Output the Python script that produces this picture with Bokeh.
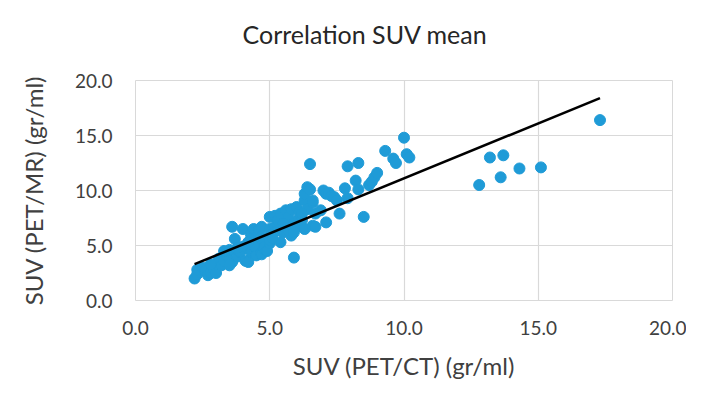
from bokeh.plotting import figure
from bokeh.models import FixedTicker, PrintfTickFormatter, ColumnDataSource, Title
from bokeh.embed import file_html
from bokeh.resources import INLINE

# SUV (PET/CT) values
suv_ct = [2.2, 2.3, 2.3, 2.5, 2.6, 2.7, 2.8, 2.9, 3.0, 3.0, 3.1, 3.2, 3.3, 3.4, 3.5,
          3.6, 3.6, 3.7, 3.8, 3.9, 4.0, 4.0, 4.1, 4.2, 4.3, 4.3, 4.4, 4.5, 4.5, 4.6,
          4.6, 4.7, 4.7, 4.7, 4.8, 4.8, 4.9, 5.0, 5.0, 5.0, 5.0, 5.1, 5.2, 5.2, 5.3,
          5.4, 5.4, 5.5, 5.6, 5.6, 5.7, 5.8, 5.8, 5.9, 6.0, 6.0, 6.1, 6.2, 6.3, 6.3,
          6.3, 6.4, 6.4, 6.5, 6.5, 6.6, 6.6, 6.6, 6.7, 6.7, 6.9, 7.0, 7.1, 7.1, 7.2,
          7.3, 7.4, 7.5, 7.6, 7.8, 7.9, 7.9, 8.2, 8.3, 8.3, 8.5, 8.7, 8.8, 8.9, 9.0,
          9.3, 9.6, 9.7, 10.0, 10.1, 10.2, 12.8, 13.2, 13.6, 13.7, 14.3, 15.1, 17.3,
          5.5, 5.7, 5.9, 6.1, 5.3, 4.4, 3.3, 3.8, 2.8, 3.5, 4.2, 5.1, 5.9, 6.2]
# SUV (PET/MR) values
suv_mr = [2.0, 2.4, 2.8, 3.0, 2.7, 2.3, 2.5, 2.9, 2.5, 3.3, 3.8, 3.2, 3.6, 4.1, 4.6,
          3.5, 6.7, 5.6, 4.0, 4.4, 4.9, 6.5, 3.6, 3.5, 4.4, 6.0, 6.5, 4.9, 4.1, 5.3,
          6.4, 4.2, 5.8, 6.7, 4.7, 4.9, 4.5, 5.2, 5.5, 6.5, 7.6, 6.1, 6.7, 7.7, 7.3,
          5.3, 7.9, 6.2, 6.8, 8.2, 7.6, 8.3, 5.9, 3.9, 6.7, 8.5, 7.4, 7.3, 6.5, 9.1,
          9.7, 10.3, 8.3, 10.1, 12.4, 6.8, 8.9, 9.1, 7.9, 6.7, 8.2, 10.0, 7.1, 9.7, 9.8,
          9.5, 9.4, 9.1, 7.9, 10.2, 12.2, 9.3, 10.9, 10.1, 12.5, 7.6, 10.5, 10.8, 11.2, 11.6,
          13.6, 12.9, 12.5, 14.8, 13.3, 13.0, 10.5, 13.0, 11.2, 13.2, 12.0, 12.1, 16.4,
          7.0, 6.4, 7.0, 8.0, 6.4, 5.0, 4.5, 4.8, 3.3, 3.2, 5.3, 5.7, 6.2, 7.9]

# Linear trend line
trend_slope = 1.0
trend_intercept = 1.1

tick_values = [0, 5, 10, 15, 20]

TEXT = "#404040"
FONT = "Lato"

p = figure(width=686, height=384, output_backend="svg", toolbar_location=None,
           x_range=(0, 20), y_range=(0, 20),
           min_border_left=135, min_border_right=14,
           min_border_top=80, min_border_bottom=84)

# blank spacer panel between the frame and the title
p.add_layout(Title(text=" ", text_font_size="2px", standoff=24), "above")

p.title.text = "Correlation SUV mean"
p.title.align = "left"
p.title.offset = 107
p.title.text_font = FONT
p.title.text_font_size = "25px"
p.title.text_font_style = "normal"
p.title.text_color = "#262626"
p.title.standoff = 8

p.outline_line_color = "#d9d9d9"
p.background_fill_color = "white"
p.border_fill_color = "white"

for ax in (p.xaxis[0], p.yaxis[0]):
    ax.ticker = FixedTicker(ticks=tick_values)
    ax.formatter = PrintfTickFormatter(format="%.1f")
    ax.axis_line_color = None
    ax.major_tick_line_color = None
    ax.minor_tick_line_color = None
    ax.major_tick_out = 0
    ax.major_tick_in = 0
    ax.major_label_text_font = FONT
    ax.major_label_text_font_size = "19px"
    ax.major_label_text_color = TEXT
    ax.axis_label_text_font = FONT
    ax.axis_label_text_font_size = "24px"
    ax.axis_label_text_font_style = "normal"
    ax.axis_label_text_color = TEXT

p.xaxis.axis_label = "SUV (PET/CT) (gr/ml)"
p.yaxis.axis_label = "SUV (PET/MR) (gr/ml)"
p.xaxis.major_label_standoff = 20
p.yaxis.major_label_standoff = 23
p.xaxis.axis_label_standoff = 13
p.yaxis.axis_label_standoff = 24

p.xgrid.ticker = FixedTicker(ticks=tick_values)
p.ygrid.ticker = FixedTicker(ticks=tick_values)
p.xgrid.grid_line_color = "#d9d9d9"
p.ygrid.grid_line_color = "#d9d9d9"
p.xgrid.grid_line_width = 1.2
p.ygrid.grid_line_width = 1.2

src = ColumnDataSource(dict(x=suv_ct, y=suv_mr))
p.scatter("x", "y", source=src, size=11, fill_color="#1f9bd7", line_color="#1f9bd7")

tx = [min(suv_ct), max(suv_ct)]
ty = [trend_slope * v + trend_intercept for v in tx]
p.line(tx, ty, line_color="black", line_width=2.5)

open("out.html", "w").write(file_html(p, INLINE))
